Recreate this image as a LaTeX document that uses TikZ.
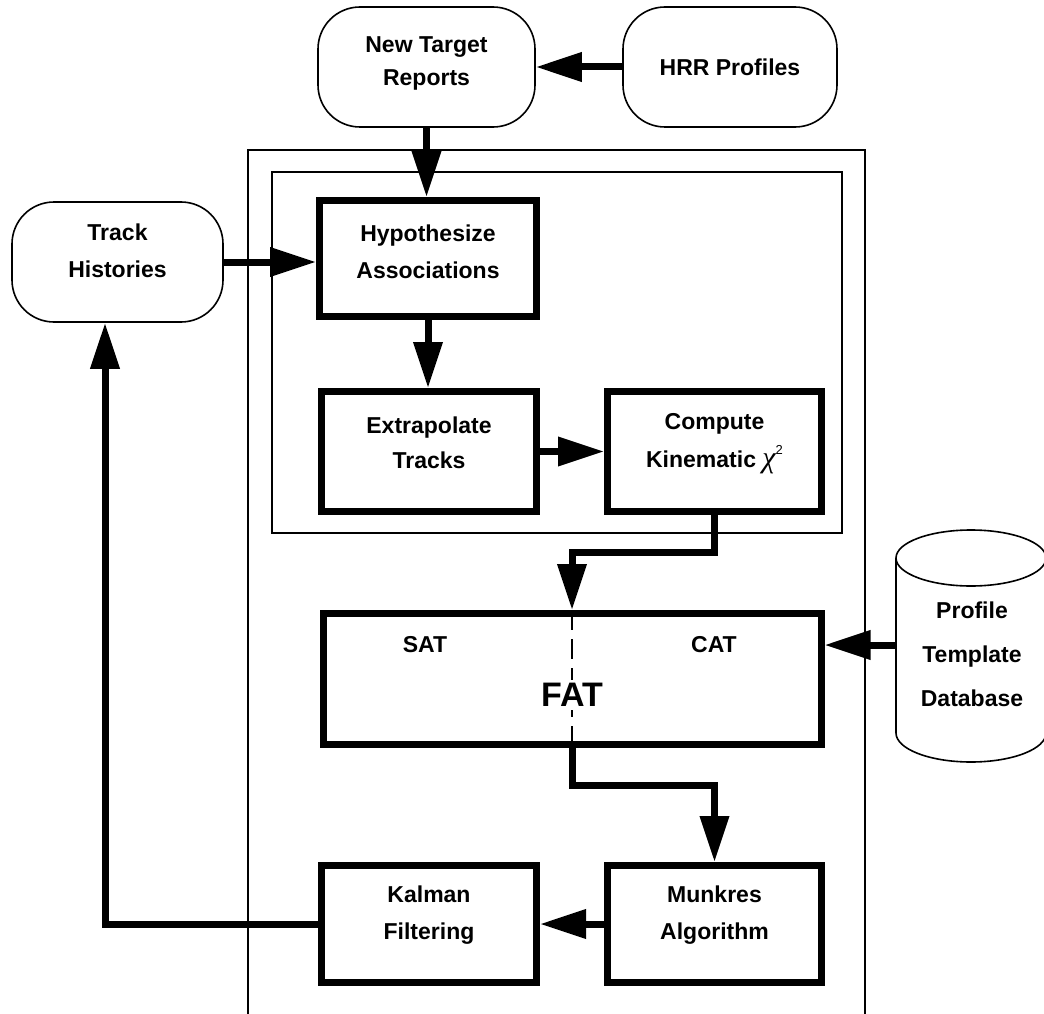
\documentclass[tikz,border=0pt]{standalone}
\usepackage{fontspec}
\setmainfont{Liberation Sans}
\newfontfamily\chifont{Liberation Serif}
\usetikzlibrary{arrows.meta,calc}
\begin{document}
\begin{tikzpicture}[x=1pt,y=-1pt,
  txt/.style={font=\bfseries\fontsize{23}{37}\selectfont, align=center, inner sep=0pt},
  rbox/.style={draw, line width=1.6pt, rounded corners=42pt},
  tbox/.style={draw, line width=7pt},
  arr/.style={line width=7pt, -{Triangle[length=46pt,width=28pt]}},
  frame/.style={line width=1.8pt}
]
\useasboundingbox[fill=white] (0,0) rectangle (1044,1014);
% frames
\draw[frame] (248,1020) -- (248,150) -- (865,150) -- (865,1020);
\draw[line width=1.5pt] (272,172) rectangle (842,533);
% boxes
\node[rbox, minimum width=217pt, minimum height=120pt] (ntr) at (426.5,67) {};
\node[txt, font=\bfseries\fontsize{23}{33}\selectfont] (ntrt) at (426.5,63) {New Target\\Reports};
\node[rbox, minimum width=214pt, minimum height=120pt] (hrr) at (730,67) {};
\node[txt] (hrrt) at (730,67) {HRR Profiles};
\node[rbox, minimum width=211pt, minimum height=120pt] (th) at (117.5,262) {};
\node[txt] (tht) at (117.5,251) {Track\\Histories};
\node[tbox, minimum width=217pt, minimum height=116pt] (hyp) at (428,258.5) {};
\node[txt] (hypt) at (428,251.5) {Hypothesize\\Associations};
\node[tbox, minimum width=215pt, minimum height=120pt] (ext) at (429,451.5) {};
\node[txt, font=\bfseries\fontsize{23}{35}\selectfont] (extt) at (429,442.5) {Extrapolate\\Tracks};
\node[tbox, minimum width=214pt, minimum height=120pt] (comp) at (714.5,451.5) {};
\node[txt, font=\bfseries\fontsize{23}{38}\selectfont] (compt) at (714.5,444) {Compute\\Kinematic {\mdseries\chifont\itshape\fontsize{30}{30}\selectfont χ}\raisebox{13pt}{\mdseries\fontsize{13}{13}\selectfont 2}};
\node[tbox, minimum width=498pt, minimum height=131pt] (fat) at (572,679) {};
\draw[line width=1.4pt, dash pattern=on 20pt off 9pt] (fat.north) -- (fat.south);
\node[txt] (sat) at (425,645) {SAT};
\node[txt] (cat) at (714,645) {CAT};
\node[txt, font=\bfseries\fontsize{34}{40}\selectfont, fill=white, inner sep=3pt] (fatl) at (572,695) {FAT};
\node[tbox, minimum width=214pt, minimum height=117pt] (munk) at (714.5,924) {};
\node[txt] (munkt) at (714.5,915) {Munkres\\Algorithm};
\node[tbox, minimum width=215pt, minimum height=117pt] (kal) at (429,924) {};
\node[txt] (kalt) at (429,915) {Kalman\\Filtering};
% database cylinder
\draw[line width=1.6pt] (896,558) -- (896,733) arc[start angle=180, end angle=360, x radius=75pt, y radius=29pt] -- (1046,558);
\draw[line width=1.6pt] (971,558) ellipse[x radius=75pt, y radius=28pt];
\node[txt, font=\bfseries\fontsize{23}{44}\selectfont] (db) at (972,654) {Profile\\Template\\Database};
\coordinate (dbin) at (896,645);
\coordinate (ret) at (105,921);
% connectors
\draw[arr] (hrr.west) -- (ntr.east);
\draw[arr] (ntr.south) -- (ntr.south |- hyp.north);
\draw[arr] (th.east) -- (th.east -| hyp.west);
\draw[arr] (hyp.south) -- (hyp.south |- ext.north);
\draw[arr] (ext.east) -- (ext.east -| comp.west);
\draw[arr] (comp.south) -- (comp.south |- 0,552) -| (fat.north);
\draw[arr] (dbin) -- (dbin -| fat.east);
\draw[arr] (fat.south) -- (fat.south |- 0,785) -| (munk.north);
\draw[arr] (munk.west) -- (munk.west -| kal.east);
\draw[arr] (kal.west) -- (kal.west -| ret) -- (ret |- th.south);
\end{tikzpicture}
\end{document}
